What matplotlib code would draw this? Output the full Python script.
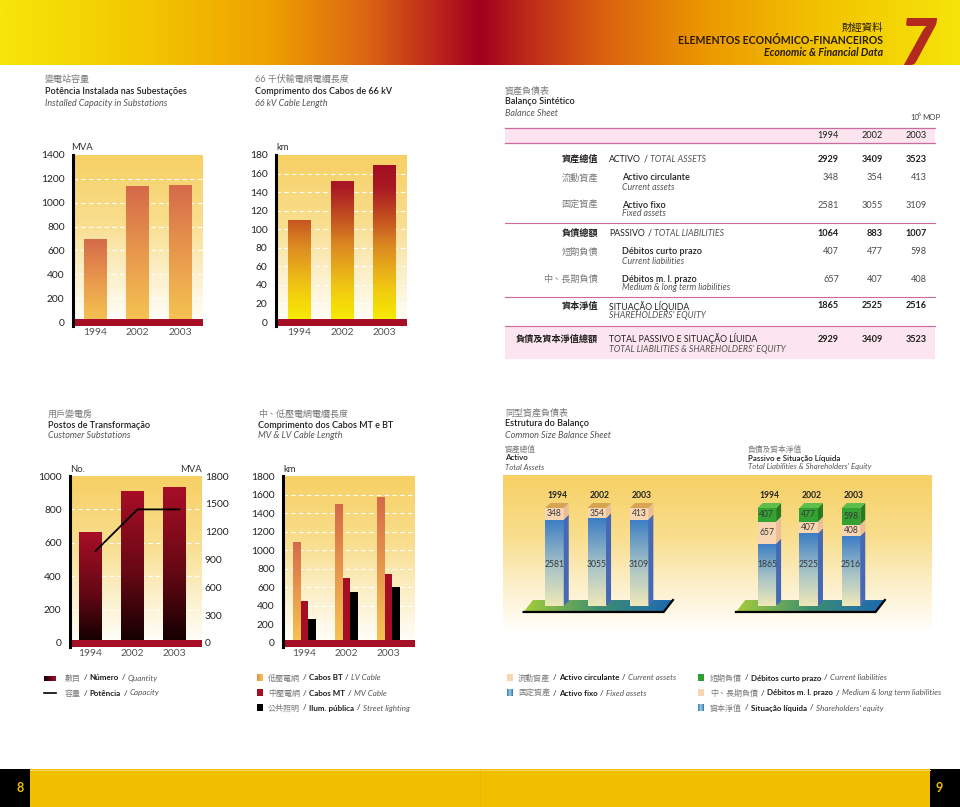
import numpy as np
import matplotlib
matplotlib.use("Agg")
import matplotlib.pyplot as plt
from matplotlib.colors import LinearSegmentedColormap
from matplotlib.patches import Rectangle, Polygon

W, H = 960, 807
plt.rcParams['font.family'] = ['Lato', 'Noto Sans CJK TC', 'DejaVu Sans']

# ---- dane / data -------------------------------------------------------
years = ['1994', '2002', '2003']

# 變電站容量 (MVA)
capacity_mva = [700, 1140, 1150]
capacity_ticks = [0, 200, 400, 600, 800, 1000, 1200, 1400]

# 66 千伏電纜長度 (km)
cable66_km = [110, 152, 169]
cable66_ticks = [0, 20, 40, 60, 80, 100, 120, 140, 160, 180]

# 用戶變電房: number and MVA
substation_no = [665, 912, 935]
substation_mva = [990, 1440, 1440]
substation_ticks = [0, 200, 400, 600, 800, 1000]
substation_mva_ticks = [0, 300, 600, 900, 1200, 1500, 1800]

# 中、低壓電纜 (km)
lv_km = [1090, 1500, 1575]
mv_km = [450, 705, 745]
street_km = [259, 545, 600]
mvlv_ticks = [0, 200, 400, 600, 800, 1000, 1200, 1400, 1600, 1800]

# 資產負債表 (10^6 MOP)
total_assets = [2929, 3409, 3523]
current_assets = [348, 354, 413]
fixed_assets = [2581, 3055, 3109]
total_liab = [1064, 883, 1007]
current_liab = [407, 477, 598]
long_liab = [657, 407, 408]
equity = [1865, 2525, 2516]
total_liab_equity = [2929, 3409, 3523]

# ---- kolory / colours --------------------------------------------------
def cmap(name, colors):
    return LinearSegmentedColormap.from_list(name, colors)

BG = cmap('bg', [(0, '#FFFEFA'), (0.3, '#FCEFC8'), (0.6, '#F9DE8E'), (1, '#F7D064')])
ORANGE = cmap('orange', [(0, '#F5C452'), (0.5, '#E8994C'), (1, '#D5694A')])
HEAT = cmap('heat', [(0, '#F8EE00'), (0.22, '#F0C414'), (0.45, '#DC8A22'),
                     (0.62, '#C45020'), (0.8, '#AA1A24'), (1, '#A00A22')])
REDBLK = cmap('redblk', [(0, '#120000'), (0.45, '#650814'), (1, '#A80E26')])
BLUE = cmap('blue', [(0, '#EFE9B8'), (0.45, '#A9C4C6'), (1, '#3B7DC4')])
PLAT = cmap('plat', [(0, '#A6CC38'), (0.5, '#3E8E70'), (1, '#1C68B2')])
BANNER = cmap('banner', [(0, '#F6E60A'), (0.16, '#F3C400'), (0.28, '#EEA000'),
                         (0.38, '#DC6612'), (0.45, '#BE2A1A'), (0.5, '#A2001F'),
                         (0.55, '#BE2A1A'), (0.63, '#DA6210'), (0.74, '#EC9A00'),
                         (0.86, '#F2C400'), (1, '#F6E40A')])
DARKRED = '#A50E25'
PEACH = '#F8D6B4'

ZH = dict(color='#7A7A7A')
ZHB = dict(color='#1E1E1E', fontweight='bold')
DARK = dict(color='#1E1E1E')
BOLD = dict(color='#1E1E1E', fontweight='bold')
SEMI = dict(color='#1E1E1E', fontweight='semibold')
ITAL = dict(color='#555555', style='italic')

# ---- strona / page -----------------------------------------------------
fig = plt.figure(figsize=(W / 100, H / 100), dpi=100)
page = fig.add_axes([0, 0, 1, 1])
page.axis('off')
renderer = fig.canvas.get_renderer()


def box(x0, y0, x1, y1):
    return [x0 / W, 1 - y1 / H, (x1 - x0) / W, (y1 - y0) / H]


def rich(x, y, parts, size=6.3, ha='left', gap=2.6):
    objs, widths = [], []
    for s, kw in parts:
        t = page.text(0, y, s, fontsize=size, va='center', ha='left', **kw)
        objs.append(t)
        widths.append(t.get_window_extent(renderer).width)
    total = sum(widths) + gap * (len(objs) - 1)
    cur = x - total if ha == 'right' else x
    for t, w in zip(objs, widths):
        t.set_x(cur)
        cur += w + gap


def title3(x, y, zh, pt, en, step=12, size=6.5):
    page.text(x, y, zh, fontsize=size, va='center', **ZH)
    page.text(x, y + step, pt, fontsize=size, va='center', **SEMI)
    page.text(x, y + 2 * step, en, fontsize=size, va='center', **ITAL)


def hgrad(x0, x1, y0, y1, cm):
    page.imshow(np.linspace(0, 1, 64)[None, :], cmap=cm, extent=[x0, x1, y1, y0],
                aspect='auto', zorder=2)


# banner
page.imshow(np.linspace(0, 1, 512)[None, :], cmap=BANNER, extent=[0, W, 65, 0], aspect='auto')
page.text(883, 28, '財經資料', ha='right', va='center', fontsize=7.5, color='#2A1A08')
page.text(883, 40, 'ELEMENTOS ECONÓMICO-FINANCEIROS', ha='right', va='center',
          fontsize=7.6, fontweight='bold', color='#2A1A08')
page.text(883, 52, 'Economic & Financial Data', ha='right', va='center',
          fontsize=7.6, fontweight='bold', style='italic', color='#2A1A08')
page.text(918, 46, '7', ha='center', va='center', fontsize=46, fontweight='heavy',
          style='italic', color='#B22A1E')

# bottom band
page.add_patch(Rectangle((30, 769), 900, 38, fc='#F2BF00', ec='none'))
page.plot([30, 930], [769.5, 769.5], color='#F6D560', lw=0.8)
page.plot([480, 480], [770, 807], color='#EBB800', lw=0.6)
page.add_patch(Rectangle((0, 769), 30, 38, fc='black', ec='none'))
page.add_patch(Rectangle((930, 769), 30, 38, fc='black', ec='none'))
page.text(20, 788, '8', ha='center', va='center', fontsize=9, fontweight='bold', color='#F2BF00')
page.text(939, 788, '9', ha='center', va='center', fontsize=9, fontweight='bold', color='#F2BF00')

# ---- wykresy słupkowe / bar charts ------------------------------------


def chart_axes(left, right, top, zero, vmax, c0, step):
    upp = vmax / (zero - top)
    bottom = zero + 3.5
    ax = fig.add_axes(box(left, top, right, bottom))
    xlim = ((left - c0) / step, (right - c0) / step)
    ylim = (-(bottom - zero) * upp, vmax)
    ax.imshow(np.linspace(1, 0, 256)[:, None], cmap=BG,
              extent=[xlim[0], xlim[1], 0, vmax], aspect='auto', zorder=0)
    ax.set_xlim(xlim)
    ax.set_ylim(ylim)
    ax.axhspan(ylim[0], ylim[0] + 7 * upp, color=DARKRED, lw=0, zorder=5)
    for s in ('top', 'right', 'bottom'):
        ax.spines[s].set_visible(False)
    ax.spines['left'].set_linewidth(2.2)
    ax.spines['left'].set_zorder(6)
    ax.tick_params(length=0, labelsize=7.4, labelcolor='#222222')
    ax.tick_params(axis='y', pad=6)
    ax.tick_params(axis='x', pad=1.5, labelcolor='#555555', labelsize=7.4)
    ax.set_xticks(range(len(years)), years)
    return ax


def grid(ax, ticks):
    for v in ticks[1:-1]:
        ax.axhline(v, color='white', lw=0.8, ls=(0, (4, 3)), zorder=1)


def grad_bars(ax, x, h, width, cm, vmax=None):
    bars = ax.bar(x, h, width, color='none', lw=0, zorder=2)
    for b in bars:
        x0 = b.get_x()
        span = b.get_height() if vmax is None else vmax
        im = ax.imshow(np.linspace(1, 0, 256)[:, None], cmap=cm,
                       extent=[x0, x0 + b.get_width(), 0, span], aspect='auto', zorder=2)
        im.set_clip_path(b)
    return bars


# 1. Installed capacity
title3(45, 79, '變電站容量', 'Potência Instalada nas Subestações', 'Installed Capacity in Substations')
ax1 = chart_axes(73, 203, 155, 322, 1400, 95, 42.5)
ax1.set_yticks(capacity_ticks)
grid(ax1, capacity_ticks)
grad_bars(ax1, range(3), capacity_mva, 0.54, ORANGE)
page.text(71, 147, 'MVA', fontsize=6.8, va='center', color='#333333')

# 2. 66 kV cables
title3(255, 79, '66 千伏輸電網電纜長度', 'Comprimento dos Cabos de 66 kV', '66 kV Cable Length')
ax2 = chart_axes(276, 407, 155, 322, 180, 299.5, 42.5)
ax2.set_yticks(cable66_ticks)
grid(ax2, cable66_ticks)
grad_bars(ax2, range(3), cable66_km, 0.54, HEAT, vmax=180)
page.text(276, 147, 'km', fontsize=6.8, va='center', color='#333333')

# 3. Customer substations
title3(48, 414, '用戶變電房', 'Postos de Transformação', 'Customer Substations', step=11)
ax3 = chart_axes(70, 202, 476, 643, 1000, 90, 42)
ax3.set_yticks(substation_ticks)
grid(ax3, substation_ticks)
grad_bars(ax3, range(3), substation_no, 0.524, REDBLK)
ax3b = ax3.twinx()
lo, hi = ax3.get_ylim()
ax3b.set_ylim(lo * 1.8, hi * 1.8)
ax3b.set_yticks(substation_mva_ticks)
ax3b.tick_params(length=0, labelsize=7.4, labelcolor='#222222', pad=2)
for s in ax3b.spines.values():
    s.set_visible(False)
ax3b.plot(np.arange(3) + 0.13, substation_mva, color='black', lw=1.3, zorder=4)
page.text(70, 469, 'No.', fontsize=6.8, va='center', color='#333333')
page.text(202, 469, 'MVA', fontsize=6.8, va='center', ha='right', color='#333333')

# 4. MV & LV cables
title3(258, 414, '中、低壓電網電纜長度', 'Comprimento dos Cabos MT e BT', 'MV & LV Cable Length', step=11)
ax4 = chart_axes(283, 415, 476, 643, 1800, 304.5, 42)
ax4.set_yticks(mvlv_ticks)
grid(ax4, mvlv_ticks)
bw = 7.5 / 42
xs = np.arange(3)
grad_bars(ax4, xs - bw, lv_km, bw, ORANGE)
ax4.bar(xs, mv_km, bw, color=DARKRED, lw=0, zorder=2)
ax4.bar(xs + bw, street_km, bw, color='black', lw=0, zorder=2)
page.text(283, 469, 'km', fontsize=6.8, va='center', color='#333333')

# ---- tabela / balance sheet -------------------------------------------
title3(505, 91, '資產負債表', 'Balanço Sintético', 'Balance Sheet', step=11)
page.text(910, 117, '10', fontsize=5.6, va='center', color='#444444')
page.text(918, 114, '6', fontsize=3.8, va='center', color='#444444')
page.text(922, 117, 'MOP', fontsize=5.6, va='center', color='#444444')

LINE = '#CF6AA0'
PINK = '#FCE5EF'
col_x = [839, 883, 927]
page.add_patch(Rectangle((505, 128), 430, 15, fc=PINK, ec='none'))
for yy in (128, 143):
    page.plot([505, 935], [yy, yy], color=LINE, lw=0.9)
for x, yr in zip(col_x, years):
    page.text(x, 136, yr, ha='right', va='center', fontsize=6.6, **DARK)
for yy in (223, 297):
    page.plot([505, 935], [yy, yy], color=LINE, lw=0.8)
page.add_patch(Rectangle((505, 326), 430, 33, fc=PINK, ec='none'))
page.plot([505, 935], [326, 326], color=LINE, lw=0.8)


def row_values(y, vals, bold):
    for x, v in zip(col_x, vals):
        page.text(x, y, str(v), ha='right', va='center', fontsize=6.6,
                  **(BOLD if bold else dict(color='#4A4A4A')))


def main_row(y, zh, parts, vals, sub=None):
    page.text(598, y, zh, ha='right', va='center', fontsize=6.6, **ZHB)
    rich(609, y, parts, size=6.3)
    if sub:
        page.text(609, y + 10, sub, va='center', fontsize=6.3, **ITAL)
    row_values(y, vals, True)


def sub_row(y, zh, pt, en, vals):
    page.text(598, y, zh, ha='right', va='center', fontsize=6.6, **ZH)
    page.text(622, y, pt, va='center', fontsize=6.5, **SEMI)
    page.text(622, y + 9, en, va='center', fontsize=6.3, **ITAL)
    row_values(y, vals, False)


main_row(159, '資產總值', [('ACTIVO', DARK), ('/', DARK), ('TOTAL ASSETS', ITAL)], total_assets)
sub_row(178, '流動資產', 'Activo circulante', 'Current assets', current_assets)
sub_row(205, '固定資產', 'Activo fixo', 'Fixed assets', fixed_assets)
main_row(233, '負債總額', [('PASSIVO', DARK), ('/', DARK), ('TOTAL LIABILITIES', ITAL)], total_liab)
sub_row(252, '短期負債', 'Débitos curto prazo', 'Current liabilities', current_liab)
sub_row(279, '中、長期負債', 'Débitos m. l. prazo', 'Medium & long term liabilities', long_liab)
main_row(306, '資本淨值', [('SITUAÇÃO LÍQUIDA', DARK)], equity, sub="SHAREHOLDERS' EQUITY")
main_row(339, '負債及資本淨值總額', [('TOTAL PASSIVO E SITUAÇÃO LÍUIDA', DARK)], total_liab_equity,
         sub="TOTAL LIABILITIES & SHAREHOLDERS' EQUITY")

# ---- 同型資產負債表 / common size balance sheet -----------------------
title3(505, 413, '同型資產負債表', 'Estrutura do Balanço', 'Common Size Balance Sheet', step=11)
for x0, zh, pt, en in [(505, '資產總值', 'Activo', 'Total Assets'),
                       (748, '負債及資本淨值', 'Passivo e Situação Líquida',
                        "Total Liabilities & Shareholders' Equity")]:
    page.text(x0, 449, zh, fontsize=5.6, va='center', **ZH)
    page.text(x0, 458, pt, fontsize=5.8, va='center', **SEMI)
    page.text(x0, 467, en, fontsize=5.6, va='center', **ITAL)

step5, ppu = 42.3, 0.98
ax5 = fig.add_axes(box(503, 475, 932, 630))
x5 = ((503 - 554.5) / step5, (932 - 554.5) / step5)
y5 = (-(630 - 606) / ppu, (606 - 475) / ppu)
ax5.imshow(np.linspace(1, 0, 256)[:, None], cmap=BG, extent=[x5[0], x5[1], y5[0], y5[1]],
           aspect='auto', zorder=0)
ax5.set_xlim(x5)
ax5.set_ylim(y5)
ax5.axis('off')
w5 = 18.5 / step5
dx, dy = 5 / step5, 5 / ppu


def block(x, b, h, front, side, top=None):
    r = ax5.bar(x, h, w5, bottom=b, color='none' if not isinstance(front, str) else front,
                lw=0, zorder=3)[0]
    if not isinstance(front, str):
        im = ax5.imshow(np.linspace(1, 0, 256)[:, None], cmap=front,
                        extent=[x - w5 / 2, x + w5 / 2, b, b + h], aspect='auto', zorder=3)
        im.set_clip_path(r)
    xr, xl, t = x + w5 / 2, x - w5 / 2, b + h
    ax5.add_patch(Polygon([(xr, b), (xr + dx, b + dy), (xr + dx, t + dy), (xr, t)],
                          fc=side, ec='none', zorder=3))
    if top is not None:
        ax5.add_patch(Polygon([(xl, t), (xl + dx, t + dy), (xr + dx, t + dy), (xr, t)],
                              fc=top, ec='none', zorder=3))


def platform(p0, p1):
    tl, tr, s = p0 - 0.51, p1 + 0.80, 0.22
    yt, yb = 6.1, -6.1
    poly = Polygon([(tl, yt), (tr, yt), (tr - s, yb), (tl - s, yb)], fc='none', ec='none', zorder=2)
    ax5.add_patch(poly)
    im = ax5.imshow(np.linspace(0, 1, 128)[None, :], cmap=PLAT, extent=[tl - s, tr, yb, yt],
                    aspect='auto', zorder=2)
    im.set_clip_path(poly)
    ax5.plot([tl - s, tr - s, tr], [yb, yb, yt], color='black', lw=1.6, zorder=2.5,
             solid_joinstyle='miter')


left_pos = [0, 1, 2]
right_pos = [5.02, 6.01, 7.01]
platform(left_pos[0], left_pos[-1])
platform(right_pos[0], right_pos[-1])

LBL = dict(fontsize=6.2, ha='center', va='center', color='#3A3A3A', zorder=5)
for p, yr, tot, fa, ca in zip(left_pos, years, total_assets, fixed_assets, current_assets):
    f = fa / tot * 100
    c = ca / tot * 100
    block(p, 0, f, BLUE, '#4768B4')
    block(p, f, c, PEACH, '#EBBE98', top='#D6A452')
    ax5.text(p, 42, str(fa), **LBL)
    ax5.text(p, f + c / 2, str(ca), **LBL)
    ax5.text(p + dx / 2, 113, yr, fontsize=6.2, ha='center', va='center',
             fontweight='bold', color='#222222')

for p, yr, tot, eq, ll, cl in zip(right_pos, years, total_liab_equity, equity, long_liab, current_liab):
    e = eq / tot * 100
    l = ll / tot * 100
    c = cl / tot * 100
    block(p, 0, e, BLUE, '#4768B4')
    block(p, e, l, PEACH, '#EBBE98')
    block(p, e + l, c, '#34A232', '#267A22', top='#5DBE4C')
    ax5.text(p, 42, str(eq), **LBL)
    ax5.text(p, e + l / 2, str(ll), **LBL)
    ax5.text(p, e + l + c / 2, str(cl), **LBL)
    ax5.text(p + dx / 2, 113, yr, fontsize=6.2, ha='center', va='center',
             fontweight='bold', color='#222222')

# ---- legendy / legends -------------------------------------------------
SL = '/'
hgrad(44, 56, 676, 681, cmap('q', ['#120000', DARKRED]))
page.plot([44, 56], [693, 693], color='black', lw=1.2)
rich(65, 678, [('數目', ZH), (SL, DARK), ('Número', BOLD), (SL, DARK), ('Quantity', ITAL)], size=5.8)
rich(65, 693, [('容量', ZH), (SL, DARK), ('Potência', BOLD), (SL, DARK), ('Capacity', ITAL)], size=5.8)

hgrad(257, 263, 674, 681, cmap('lv', ['#E58F4A', '#F6C652']))
page.add_patch(Rectangle((257, 689), 6, 7, fc=DARKRED, ec='none'))
page.add_patch(Rectangle((257, 704), 6, 7, fc='black', ec='none'))
rich(268, 678, [('低壓電網', ZH), (SL, DARK), ('Cabos BT', BOLD), (SL, DARK), ('LV Cable', ITAL)], size=5.8)
rich(268, 693, [('中壓電網', ZH), (SL, DARK), ('Cabos MT', BOLD), (SL, DARK), ('MV Cable', ITAL)], size=5.8)
rich(268, 708, [('公共照明', ZH), (SL, DARK), ('Ilum. pública', BOLD), (SL, DARK), ('Street lighting', ITAL)], size=5.8)

teal = cmap('teal', ['#2F7FB8', '#9FD0D8', '#2F6FB0'])
page.add_patch(Rectangle((507, 674), 6, 7, fc=PEACH, ec='none'))
hgrad(507, 513, 689, 696, teal)
rich(518, 678, [('流動資產', ZH), (SL, DARK), ('Activo circulante', BOLD), (SL, DARK), ('Current assets', ITAL)], size=5.8)
rich(518, 693, [('固定資產', ZH), (SL, DARK), ('Activo fixo', BOLD), (SL, DARK), ('Fixed assets', ITAL)], size=5.8)

page.add_patch(Rectangle((698, 674), 6, 7, fc='#2E9E30', ec='none'))
page.add_patch(Rectangle((698, 689), 6, 7, fc=PEACH, ec='none'))
hgrad(698, 704, 704, 711, teal)
rich(710, 678, [('短期負債', ZH), (SL, DARK), ('Débitos curto prazo', BOLD), (SL, DARK), ('Current liabilities', ITAL)], size=5.8)
rich(710, 693, [('中、長期負債', ZH), (SL, DARK), ('Débitos m. l. prazo', BOLD), (SL, DARK), ('Medium & long term liabilities', ITAL)], size=5.8)
rich(710, 708, [('資本淨值', ZH), (SL, DARK), ('Situação líquida', BOLD), (SL, DARK), ("Shareholders' equity", ITAL)], size=5.8)

page.set_xlim(0, W)
page.set_ylim(H, 0)

fig.savefig('out.png', dpi=100)
